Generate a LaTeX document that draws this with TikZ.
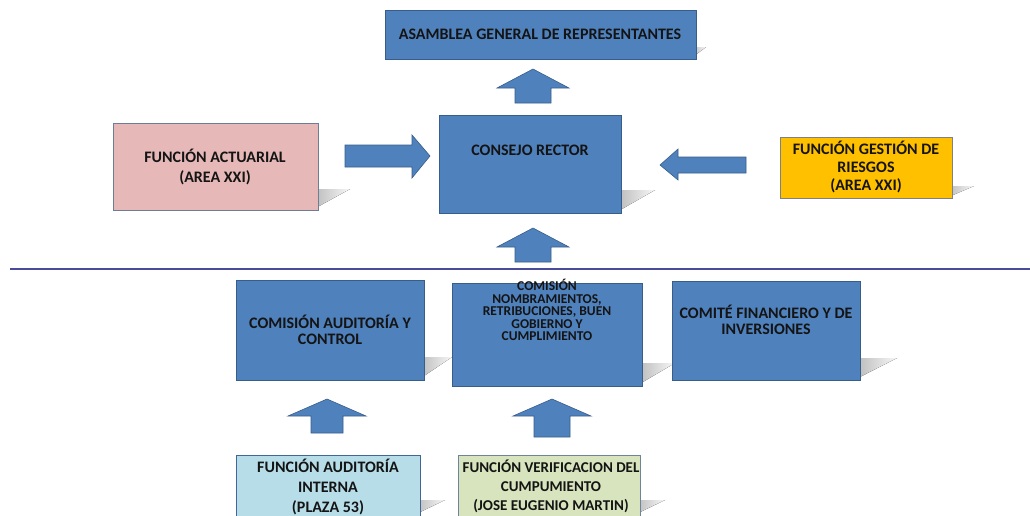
\documentclass[tikz,border=0pt]{standalone}
\usepackage{fontspec}
\setmainfont{Carlito}
\usetikzlibrary{calc}
\definecolor{boxblue}{HTML}{4F81BD}
\definecolor{boxblueline}{HTML}{385D8A}
\definecolor{pinkfill}{HTML}{E6B9B8}
\definecolor{yellowfill}{HTML}{FFC000}
\definecolor{lightbluefill}{HTML}{B7DEE8}
\definecolor{greenfill}{HTML}{D7E4BD}
\definecolor{sepline}{HTML}{4B4B9B}
\definecolor{txt}{HTML}{141414}
\tikzset{
  orgbox/.style={draw=boxblueline, line width=0.8pt, fill=boxblue, anchor=north west, inner sep=0pt},
  lbl/.style={text=txt, font=\bfseries\fontsize{16}{20}\selectfont, align=center, inner sep=0pt},
  blockarrow/.style={fill=boxblue, draw=boxblueline, line width=0.6pt},
  shadowwedge/.style={left color=black!28, right color=black!3, draw=none}
}
\newcommand{\boxat}[6]{% name, x1, y1, x2, y2, style
  \node[#6, minimum width={(#4-#2)*1pt}, minimum height={(#5-#3)*1pt}] (#1) at (#2,#3) {};}
\newcommand{\shadowat}[4]{% R, B, dx, dy
  \fill[shadowwedge] (#1-6,#2) -- (#1+#3,#2-#4) -- (#1-6,#2-#4) -- cycle;}
\newcommand{\uparrowat}[6]{% cx, top, headhalf, shafthalf, headlen, bottom
  \draw[blockarrow] (#1,#2) -- (#1+#3,#2+#5) -- (#1+#4,#2+#5) -- (#1+#4,#6) -- (#1-#4,#6) -- (#1-#4,#2+#5) -- (#1-#3,#2+#5) -- cycle;}
\begin{document}
\begin{tikzpicture}[x=1pt,y=-1pt]
\useasboundingbox[fill=white] (0,0) rectangle (1030,515);
% shadows
\shadowat{696}{59}{10}{12}
\shadowat{318}{210}{32}{21}
\shadowat{621}{213}{34}{23}
\shadowat{952}{198}{22}{12}
\shadowat{424}{380}{28}{23}
\shadowat{642}{386}{33}{23}
\shadowat{860}{380}{37}{22}
\shadowat{420}{515}{25}{15}
\shadowat{640}{515}{25}{15}
% boxes
\boxat{asamblea}{385}{10}{696}{59}{orgbox}
\boxat{actuarial}{113}{123}{318}{210}{orgbox, fill=pinkfill, draw=black!45!boxblue!70}
\boxat{consejo}{439}{115}{621}{213}{orgbox}
\boxat{riesgos}{780}{137}{952}{198}{orgbox, fill=yellowfill, draw=black!50}
\boxat{auditoria}{236}{280}{424}{380}{orgbox}
\boxat{nombram}{452}{283}{642}{386}{orgbox}
\boxat{comite}{672}{281}{860}{380}{orgbox}
\boxat{interna}{236}{455}{420}{520}{orgbox, fill=lightbluefill, draw=boxblue!80!black}
\boxat{verif}{458}{455}{640}{520}{orgbox, fill=greenfill, draw=boxblue!60!black!70}
% labels
\node[lbl] (tasamblea) at (540,34) {ASAMBLEA GENERAL DE REPRESENTANTES};
\node[lbl] (tactuarial) at (215,167) {FUNCIÓN ACTUARIAL\\(AREA XXI)};
\node[lbl] (tconsejo) at (530,150) {CONSEJO RECTOR};
\node[lbl, font=\bfseries\fontsize{16}{18}\selectfont] (triesgos) at (866,167) {FUNCIÓN GESTIÓN DE\\RIESGOS\\(AREA XXI)};
\node[lbl, font=\bfseries\fontsize{16}{16}\selectfont] (tauditoria) at (330,330) {COMISIÓN AUDITORÍA Y\\CONTROL};
\node[lbl, font=\bfseries\fontsize{13.5}{12.5}\selectfont] (tnombram) at (547,310) {COMISIÓN\\NOMBRAMIENTOS,\\RETRIBUCIONES, BUEN\\GOBIERNO Y\\CUMPLIMIENTO};
\node[lbl, font=\bfseries\fontsize{16}{16}\selectfont] (tcomite) at (766,320) {COMITÉ FINANCIERO Y DE\\INVERSIONES};
\node[lbl] (tinterna) at (328,487) {FUNCIÓN AUDITORÍA\\INTERNA\\(PLAZA 53)};
\node[lbl, font=\bfseries\fontsize{15}{19}\selectfont] (tverif) at (551,486) {FUNCIÓN VERIFICACION DEL\\CUMPUMIENTO\\(JOSE EUGENIO MARTIN)};
% separator
\draw[sepline, line width=1.3pt] (10,269) -- (1030,269);
% block arrows
\uparrowat{533}{69}{36}{18}{19}{103}
\uparrowat{533}{228}{36}{18}{19}{262}
\uparrowat{327}{399}{39}{16}{17}{433}
\uparrowat{552}{399}{39}{18}{17}{437}
\draw[blockarrow] (430,156) -- (412,135) -- (412,145) -- (345,145) -- (345,167) -- (412,167) -- (412,178) -- cycle;
\draw[blockarrow] (660,165) -- (678,149) -- (678,157) -- (746,157) -- (746,173) -- (678,173) -- (678,180) -- cycle;
\end{tikzpicture}
\end{document}
